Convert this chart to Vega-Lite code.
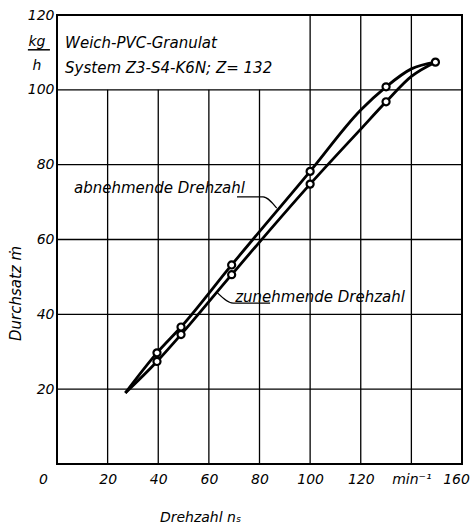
{
  "$schema": "https://vega.github.io/schema/vega-lite/v6.json",
  "width": 405,
  "height": 449,
  "autosize": "none",
  "padding": {"left": 57, "top": 15, "right": 8, "bottom": 64},
  "background": "white",
  "config": {
    "view": {"stroke": "black", "strokeWidth": 2},
    "font": "DejaVu Sans",
    "axis": {"grid": false, "ticks": false, "domain": false, "labelColor": "black", "titleColor": "black"},
    "text": {"font": "DejaVu Sans", "fontStyle": "italic", "color": "black"}
  },
  "datasets": {
    "vgrid": [
      {"x": 20, "y1": 0, "y2": 100},
      {"x": 40, "y1": 0, "y2": 100},
      {"x": 60, "y1": 0, "y2": 100},
      {"x": 80, "y1": 0, "y2": 100},
      {"x": 100, "y1": 0, "y2": 120},
      {"x": 120, "y1": 0, "y2": 120},
      {"x": 140, "y1": 0, "y2": 120}
    ],
    "hgrid": [
      {"y": 20, "x1": 0, "x2": 160},
      {"y": 40, "x1": 0, "x2": 160},
      {"y": 60, "x1": 0, "x2": 160},
      {"y": 80, "x1": 0, "x2": 160},
      {"y": 100, "x1": 0, "x2": 160}
    ],
    "curves": [
      {"series": "abnehmende", "n": 27, "m": 19},
      {"series": "abnehmende", "n": 39.5, "m": 29.7},
      {"series": "abnehmende", "n": 49, "m": 36.6},
      {"series": "abnehmende", "n": 69, "m": 53.2},
      {"series": "abnehmende", "n": 100, "m": 78.2},
      {"series": "abnehmende", "n": 120, "m": 94.6},
      {"series": "abnehmende", "n": 130, "m": 100.8},
      {"series": "abnehmende", "n": 140, "m": 105.6},
      {"series": "abnehmende", "n": 149.5, "m": 107.4},
      {"series": "zunehmende", "n": 27, "m": 19},
      {"series": "zunehmende", "n": 39.5, "m": 27.4},
      {"series": "zunehmende", "n": 49, "m": 34.6},
      {"series": "zunehmende", "n": 69, "m": 50.6},
      {"series": "zunehmende", "n": 100, "m": 74.8},
      {"series": "zunehmende", "n": 120, "m": 89.5},
      {"series": "zunehmende", "n": 130, "m": 96.8},
      {"series": "zunehmende", "n": 140, "m": 103.6},
      {"series": "zunehmende", "n": 149.5, "m": 107.4}
    ],
    "markers": [
      {"n": 39.5, "m": 29.7},
      {"n": 49, "m": 36.6},
      {"n": 69, "m": 53.2},
      {"n": 100, "m": 78.2},
      {"n": 130, "m": 100.8},
      {"n": 149.5, "m": 107.4},
      {"n": 39.5, "m": 27.4},
      {"n": 49, "m": 34.6},
      {"n": 69, "m": 50.6},
      {"n": 100, "m": 74.8},
      {"n": 130, "m": 96.8}
    ],
    "leaders": [
      {"id": "a", "k": 1, "n": 71.1, "m": 71.4},
      {"id": "a", "k": 2, "n": 81.4, "m": 71.4},
      {"id": "a", "k": 3, "n": 86.8, "m": 68.4},
      {"id": "z", "k": 1, "n": 84.2, "m": 43.0},
      {"id": "z", "k": 2, "n": 69.6, "m": 43.0},
      {"id": "z", "k": 3, "n": 63.3, "m": 45.8}
    ],
    "labels": [
      {"n": 3.2, "m": 112.6, "t": "Weich-PVC-Granulat"},
      {"n": 3.2, "m": 105.8, "t": "System Z3-S4-K6N; Z= 132"},
      {"n": 6.7, "m": 73.8, "t": "abnehmende Drehzahl"},
      {"n": 70.4, "m": 44.7, "t": "zunehmende Drehzahl"}
    ],
    "unit": [
      {"n": -7.9, "m": 112.8, "t": "kg"},
      {"n": -7.9, "m": 106.5, "t": "h"}
    ],
    "unitbar": [
      {"n1": -11.5, "n2": -2.8, "m": 110.7}
    ]
  },
  "layer": [
    {
      "data": {"name": "vgrid"},
      "mark": {"type": "rule", "color": "black", "strokeWidth": 1.3},
      "encoding": {
        "x": {
          "field": "x", "type": "quantitative",
          "scale": {"domain": [0, 160], "nice": false, "zero": false},
          "axis": {
            "values": [0, 20, 40, 60, 80, 100, 120, 140, 160],
            "labelFont": "DejaVu Sans", "labelFontStyle": "italic", "labelFontSize": 14,
            "labelPadding": 8, "labelFlush": false, "labelOverlap": false,
            "labelExpr": "datum.value == 140 ? 'min⁻¹' : datum.label",
            "labelOffset": {"condition": [{"test": "datum.value == 0", "value": -14}, {"test": "datum.value == 160", "value": -6}], "value": 0},
            "title": "Drehzahl  nₛ",
            "titleFont": "DejaVu Sans", "titleFontStyle": "italic", "titleFontWeight": "normal",
            "titleFontSize": 14,
            "titleX": 143, "titleY": 53, "titleAlign": "center", "titleBaseline": "middle"
          }
        },
        "y": {
          "field": "y1", "type": "quantitative",
          "scale": {"domain": [0, 120], "nice": false, "zero": false},
          "axis": {
            "values": [20, 40, 60, 80, 100, 120],
            "labelFont": "DejaVu Sans", "labelFontStyle": "italic", "labelFontSize": 14,
            "labelPadding": 3, "labelOverlap": false, "labelFlush": false,
            "title": "Durchsatz  ṁ",
            "titleFont": "DejaVu Sans", "titleFontStyle": "italic", "titleFontWeight": "normal",
            "titleFontSize": 15,
            "titleX": -42, "titleY": 278, "titleAngle": -90, "titleAlign": "center", "titleBaseline": "middle"
          }
        },
        "y2": {"field": "y2"}
      }
    },
    {
      "data": {"name": "hgrid"},
      "mark": {"type": "rule", "color": "black", "strokeWidth": 1.3},
      "encoding": {
        "y": {"field": "y", "type": "quantitative"},
        "x": {"field": "x1", "type": "quantitative"},
        "x2": {"field": "x2"}
      }
    },
    {
      "data": {"name": "curves"},
      "mark": {"type": "line", "color": "black", "strokeWidth": 2.8, "interpolate": "monotone"},
      "encoding": {
        "x": {"field": "n", "type": "quantitative"},
        "y": {"field": "m", "type": "quantitative"},
        "detail": {"field": "series"},
        "order": {"field": "n"}
      }
    },
    {
      "data": {"name": "leaders"},
      "mark": {"type": "line", "color": "black", "strokeWidth": 1.2, "interpolate": "monotone"},
      "encoding": {
        "x": {"field": "n", "type": "quantitative"},
        "y": {"field": "m", "type": "quantitative"},
        "detail": {"field": "id"},
        "order": {"field": "k"}
      }
    },
    {
      "data": {"name": "markers"},
      "mark": {"type": "point", "shape": "circle", "filled": true, "fill": "white", "stroke": "black", "strokeWidth": 2.2, "size": 50, "opacity": 1},
      "encoding": {
        "x": {"field": "n", "type": "quantitative"},
        "y": {"field": "m", "type": "quantitative"}
      }
    },
    {
      "data": {"name": "labels"},
      "mark": {"type": "text", "align": "left", "baseline": "middle", "fontSize": 15, "fontStyle": "italic", "font": "DejaVu Sans"},
      "encoding": {
        "x": {"field": "n", "type": "quantitative"},
        "y": {"field": "m", "type": "quantitative"},
        "text": {"field": "t"}
      }
    },
    {
      "data": {"name": "unit"},
      "mark": {"type": "text", "align": "center", "baseline": "middle", "fontSize": 14, "fontStyle": "italic", "font": "DejaVu Sans", "clip": false},
      "encoding": {
        "x": {"field": "n", "type": "quantitative"},
        "y": {"field": "m", "type": "quantitative"},
        "text": {"field": "t"}
      }
    },
    {
      "data": {"name": "unitbar"},
      "mark": {"type": "rule", "color": "black", "strokeWidth": 1.5, "clip": false},
      "encoding": {
        "x": {"field": "n1", "type": "quantitative"},
        "x2": {"field": "n2"},
        "y": {"field": "m", "type": "quantitative"}
      }
    }
  ]
}
